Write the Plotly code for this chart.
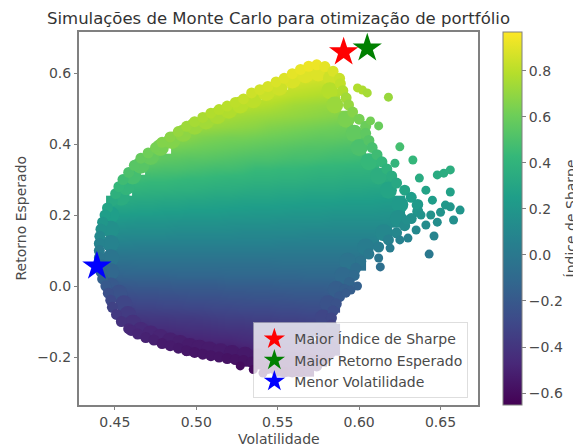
import plotly.graph_objects as go

TITLE = "Simulações de Monte Carlo para otimização de portfólio"
X_LABEL = "Volatilidade"
Y_LABEL = "Retorno Esperado"
CBAR_LABEL = "Índice de Sharpe"
NAMES = ["Maior Índice de Sharpe", "Maior Retorno Esperado", "Menor Volatilidade"]

# Simulated portfolios, row by row: return level, then volatility and Sharpe
ROW_RET = [.60, .57, .54, .51, .48, .45, .42, .39, .36, .33, .30, .27, .24, .21, .18, .15, .12, .09, .06, .03, 0.0,
           -.03, -.06, -.09, -.12, -.15, -.18, -.21, -.24]
ROW_VOL = [
    [.568, .576],
    [.556, .564, .572, .580],
    [.544, .552, .560, .568, .576, .584],
    [.524, .532, .540, .548, .556, .564, .572, .580, .588],
    [.512, .520, .528, .536, .544, .552, .560, .568, .576, .584, .592],
    [.500, .508, .516, .524, .532, .540, .548, .556, .564, .572, .580, .588, .596],
    [.488, .496, .504, .512, .520, .528, .536, .544, .552, .560, .568, .576, .584, .592, .600],
    [.484, .492, .500, .508, .516, .524, .532, .540, .548, .556, .564, .572, .580, .588, .596, .604],
    [.472, .480, .488, .496, .504, .512, .520, .528, .536, .544, .552, .560, .568, .576, .584, .592, .600, .608],
    [.468, .476, .484, .492, .500, .508, .516, .524, .532, .540, .548, .556, .564, .572, .580, .588, .596, .604, .612],
    [.464, .472, .480, .488, .496, .504, .512, .520, .528, .536, .544, .552, .560, .568, .576, .584, .592, .600, .608, .616],
    [.460, .468, .476, .484, .492, .500, .508, .516, .524, .532, .540, .548, .556, .564, .572, .580, .588, .596, .604, .612, .620],
    [.448, .456, .464, .472, .480, .488, .496, .504, .512, .520, .528, .536, .544, .552, .560, .568, .576, .584, .592, .600, .608, .616, .624, .628],
    [.444, .452, .460, .468, .476, .484, .492, .500, .508, .516, .524, .532, .540, .548, .556, .564, .572, .580, .588, .596, .604, .612, .620, .626],
    [.448, .456, .464, .472, .480, .488, .496, .504, .512, .520, .528, .536, .544, .552, .560, .568, .576, .584, .592, .600, .608, .616, .622],
    [.444, .452, .460, .468, .476, .484, .492, .500, .508, .516, .524, .532, .540, .548, .556, .564, .572, .580, .588, .596, .604, .612, .617],
    [.448, .456, .464, .472, .480, .488, .496, .504, .512, .520, .528, .536, .544, .552, .560, .568, .576, .584, .592, .600, .608, .612],
    [.444, .452, .460, .468, .476, .484, .492, .500, .508, .516, .524, .532, .540, .548, .556, .564, .572, .580, .588, .596, .604],
    [.448, .456, .464, .472, .480, .488, .496, .504, .512, .520, .528, .536, .544, .552, .560, .568, .576, .584, .592, .600],
    [.444, .452, .460, .468, .476, .484, .492, .500, .508, .516, .524, .532, .540, .548, .556, .564, .572, .580, .588, .596],
    [.448, .456, .464, .472, .480, .488, .496, .504, .512, .520, .528, .536, .544, .552, .560, .568, .576, .584, .592],
    [.452, .460, .468, .476, .484, .492, .500, .508, .516, .524, .532, .540, .548, .556, .564, .572, .580, .588],
    [.456, .464, .472, .480, .488, .496, .504, .512, .520, .528, .536, .544, .552, .560, .568, .576, .584],
    [.460, .468, .476, .484, .492, .500, .508, .516, .524, .532, .540, .548, .556, .564, .572, .580],
    [.464, .472, .480, .488, .496, .504, .512, .520, .528, .536, .544, .552, .560, .568, .576, .582],
    [.476, .484, .492, .500, .508, .516, .524, .532, .540, .548, .556, .564, .572, .582],
    [.496, .504, .512, .520, .528, .536, .544, .552, .560, .568, .576, .582],
    [.524, .532, .540, .548, .556, .564, .572, .578],
    [.552, .560, .568],
]
ROW_SHARPE = [
    [.90, .89],
    [.86, .85, .84, .83],
    [.83, .82, .80, .79, .78, .77],
    [.80, .79, .78, .77, .76, .74, .73, .72, .71],
    [.76, .75, .74, .73, .72, .71, .70, .69, .68, .67, .66],
    [.72, .71, .70, .69, .68, .67, .66, .65, .64, .63, .62, .61, .60],
    [.68, .67, .65, .64, .63, .63, .62, .61, .60, .59, .58, .57, .57, .56, .55],
    [.62, .61, .60, .59, .58, .57, .56, .56, .55, .54, .53, .52, .52, .51, .50, .50],
    [.57, .56, .55, .54, .54, .53, .52, .51, .50, .50, .49, .48, .48, .47, .46, .46, .45, .44],
    [.51, .50, .50, .49, .48, .47, .47, .46, .45, .44, .44, .43, .43, .42, .41, .41, .40, .40, .39],
    [.45, .44, .44, .43, .42, .42, .41, .40, .40, .39, .39, .38, .38, .37, .36, .36, .35, .35, .35, .34],
    [.39, .38, .38, .37, .37, .36, .35, .35, .34, .34, .33, .33, .32, .32, .31, .31, .31, .30, .30, .29, .29],
    [.33, .33, .32, .32, .31, .31, .30, .30, .29, .29, .28, .28, .28, .27, .27, .26, .26, .26, .25, .25, .25, .24, .24, .24],
    [.27, .27, .26, .26, .25, .25, .24, .24, .24, .23, .23, .23, .22, .22, .22, .21, .21, .21, .20, .20, .20, .20, .19, .19],
    [.20, .20, .19, .19, .19, .18, .18, .18, .18, .17, .17, .17, .17, .16, .16, .16, .16, .15, .15, .15, .15, .15, .14],
    [.14, .13, .13, .13, .13, .12, .12, .12, .12, .12, .11, .11, .11, .11, .11, .11, .10, .10, .10, .10, .10, .10, .10],
    [.07, .07, .06, .06, .06, .06, .06, .06, .06, .06, .06, .06, .06, .05, .05, .05, .05, .05, .05, .05, .05, .05],
    [.00, .00, .00, .00, .00, .00, .00, .00, .00, .00, .00, .00, .00, .00, .00, .00, .00, .00, .00, .00, .00],
    [-.07, -.07, -.06, -.06, -.06, -.06, -.06, -.06, -.06, -.06, -.06, -.06, -.06, -.05, -.05, -.05, -.05, -.05, -.05, -.05],
    [-.14, -.13, -.13, -.13, -.13, -.12, -.12, -.12, -.12, -.12, -.11, -.11, -.11, -.11, -.11, -.11, -.10, -.10, -.10, -.10],
    [-.20, -.20, -.19, -.19, -.19, -.18, -.18, -.18, -.18, -.17, -.17, -.17, -.17, -.16, -.16, -.16, -.16, -.15, -.15],
    [-.27, -.26, -.26, -.25, -.25, -.24, -.24, -.24, -.23, -.23, -.23, -.22, -.22, -.22, -.21, -.21, -.21, -.20],
    [-.33, -.32, -.32, -.31, -.31, -.30, -.30, -.29, -.29, -.28, -.28, -.28, -.27, -.27, -.26, -.26, -.26],
    [-.39, -.38, -.38, -.37, -.37, -.36, -.35, -.35, -.34, -.34, -.33, -.33, -.32, -.32, -.31, -.31],
    [-.45, -.44, -.44, -.43, -.42, -.42, -.41, -.40, -.40, -.39, -.39, -.38, -.38, -.37, -.36, -.36],
    [-.50, -.50, -.49, -.48, -.47, -.47, -.46, -.45, -.44, -.44, -.43, -.43, -.42, -.41],
    [-.54, -.54, -.53, -.52, -.51, -.50, -.50, -.49, -.48, -.48, -.47, -.46],
    [-.57, -.56, -.56, -.55, -.54, -.53, -.52, -.52],
    [-.60, -.59, -.58],
]
GRID_VOL = [.440, .448, .456, .464, .472, .480, .488, .496, .504, .512, .520, .528, .536, .544, .552, .560, .568,
            .576, .584, .592, .600, .608, .616, .624, .632]

# Portfolios along the edge of the cloud
EDGE_VOL = [.4485, .4455, .444, .4425, .4415, .4408, .4405, .4405, .4405, .4415, .4415, .4425, .4445, .446, .4475,
            .4485, .451, .454, .4585,
            .460, .464, .469, .474, .479, .484, .489, .494, .499, .504, .509, .514, .519, .524, .529, .534, .539,
            .544, .549, .554, .559, .564, .569, .574, .578, .582,
            .4505, .4525, .455, .4585, .462, .466, .4705, .475, .479, .484, .489, .494, .499, .504, .509, .514,
            .519, .524, .529, .534, .539, .544, .549, .554, .559, .564, .569, .574, .579, .584, .588,
            .5885, .590, .592, .5935, .596, .600, .604, .604, .606, .608, .611, .614, .617, .620, .623, .628, .632,
            .636, .636, .632, .628, .623, .618, .612, .606, .601, .598, .597, .594, .591, .588, .586, .584, .583,
            .583, .583, .583, .583]
EDGE_RET = [.24, .22, .20, .18, .16, .14, .12, .10, .08, .06, .04, .02, 0.0, -.02, -.04,
            -.06, -.08, -.10, -.12,
            -.125, -.135, -.145, -.152, -.162, -.168, -.175, -.182, -.187, -.192, -.196, -.200, -.204, -.207, -.210,
            -.214, -.220, -.232, -.238, -.242, -.242, -.24, -.235, -.225, -.21, -.19,
            .26, .28, .30, .32, .34, .36, .375, .39, .405, .42, .435, .45, .463, .475, .487, .497,
            .507, .517, .527, .544, .553, .562, .575, .585, .598, .61, .619, .623, .618, .605, .585,
            .57, .55, .53, .51, .49, .47, .45, .43, .41, .39, .37, .35, .33, .31, .29, .27, .25,
            .23, .21, .19, .17, .15, .13, .11, .09, .07, .05, .03, .01, -.01, -.03, -.05, -.07, -.09,
            -.11, -.13, -.15, -.17]
EDGE_SHARPE = [.33, .29, .25, .20, .16, .11, .07, .02, -.02, -.07, -.11, -.16, -.20, -.25, -.29,
               -.33, -.38, -.42, -.46,
               -.47, -.48, -.50, -.51, -.53, -.53, -.54, -.55, -.56, -.56, -.56, -.56, -.57, -.57, -.57, -.57, -.58,
               -.59, -.60, -.60, -.59, -.59, -.57, -.55, -.52, -.48,
               .38, .42, .46, .50, .54, .58, .61, .63, .66, .68, .71, .73, .75, .76, .78, .79,
               .80, .81, .83, .85, .86, .87, .88, .89, .91, .92, .93, .93, .91, .88, .84,
               .82, .78, .74, .71, .67, .63, .60, .56, .53, .49, .46, .42, .39, .35, .32, .29, .25,
               .22, .19, .16, .13, .10, .06, .03, .00, -.03, -.07, -.10, -.13, -.17, -.20, -.24, -.27, -.31,
               -.34, -.38, -.41, -.45]

# Portfolios just inside that edge
INNER_VOL = [.4475, .4475, .4475, .4475, .4475, .4475,
             .4525, .4555, .458, .461, .466, .472, .478, .484, .49, .496, .502, .508, .515, .522, .53, .538, .546,
             .554, .562, .57,
             .454, .457, .461, .466, .472, .478, .485, .492, .499, .506, .513, .520, .527, .535, .543, .551, .559,
             .567, .575, .583,
             .582, .585, .592, .597, .600, .606, .612, .618, .625, .624, .615, .604, .593, .590, .586, .581, .578,
             .577, .577]
INNER_RET = [.20, .16, .12, .08, .04, 0.0,
             -.02, -.05, -.08, -.105, -.125, -.135, -.145, -.155, -.162, -.17, -.175, -.18, -.185, -.19, -.195, -.20,
             -.21, -.22, -.22, -.215,
             .25, .28, .31, .34, .365, .39, .41, .43, .45, .465, .48, .495, .51, .525, .545, .56, .58,
             .595, .60, .585,
             .55, .51, .47, .43, .39, .35, .31, .27, .23, .19, .15, .11, .07, .03, -.01, -.05, -.09,
             -.13, -.17]
INNER_SHARPE = [.25, .16, .07, -.02, -.11, -.20,
                -.24, -.31, -.37, -.42, -.46, -.48, -.49, -.51, -.52, -.53, -.53, -.53, -.53, -.54, -.54, -.54,
                -.55, -.56, -.55, -.53,
                .35, .41, .48, .54, .58, .63, .66, .69, .72, .74, .76, .78, .80, .81, .84, .85, .88,
                .89, .89, .85,
                .79, .72, .64, .57, .50, .43, .36, .29, .22, .16, .10, .03, -.03, -.10, -.17, -.24, -.31,
                -.38, -.45]

# Outlying portfolios visible as single dots on the right and at the lower edge
DOT_VOL = [.599, .602, .605, .618, .612, .607, .625, .633, .622, .648, .652, .656, .656, .637, .641, .645, .653, .656,
           .662, .658, .650, .644, .648, .641, .635, .630, .625, .619, .646, .643, .613, .612, .599, .595, .592, .635,
           .638, .629, .527, .535, .541]
DOT_RET = [.558, .552, .544, .532, .451, .465, .392, .355, .346, .313, .318, .327, .265, .304, .270, .242, .228, .223,
           .214, .186, .208, .200, .180, .172, .158, .135, .130, .107, .141, .090, .054, .079, .000, -.011, -.020, .228,
           .200, .186, -.225, -.235, -.245]
DOT_SHARPE = [.78, .77, .75, .715, .59, .62, .48, .42, .41, .34, .35, .36, .27, .34, .28, .24, .21, .20,
              .19, .15, .18, .17, .14, .13, .11, .07, .06, .03, .08, .00, -.06, -.02, -.15, -.17, -.19, .22,
              .17, .15, -.60, -.61, -.62]

STAR_VOL = [.5905, .605, .439]
STAR_RET = [.659, .670, .056]
STAR_COLORS = ["red", "green", "blue"]

X_TICKS = [.45, .50, .55, .60, .65]
Y_TICKS = [-.2, 0, .2, .4, .6]
CB_TICKS = [-.6, -.4, -.2, 0, .2, .4, .6, .8]
CB_TEXT = ["−0.6", "−0.4", "−0.2", "0.0", "0.2", "0.4", "0.6", "0.8"]
S_MIN, S_MAX = -.652, .969
INK = "#4a4a4a"
LINE = "#808080"
FONT = "DejaVu Sans"

z = []
for vs, ss in zip(ROW_VOL, ROW_SHARPE):
    row = [None] * len(GRID_VOL)
    mid = (vs[0] + vs[-1]) / 2
    for v, s in zip(vs, ss):
        nearest = min(range(len(GRID_VOL)), key=lambda k: (abs(GRID_VOL[k] - v), abs(GRID_VOL[k] - mid)))
        row[nearest] = s
    z.append(row)

fig = go.Figure()
fig.add_trace(go.Heatmap(
    x=GRID_VOL, y=ROW_RET, z=z, zsmooth="best", colorscale="Viridis", zmin=S_MIN, zmax=S_MAX,
    hoverinfo="skip", showlegend=False,
    colorbar=dict(x=1.0625, xanchor="left", xref="paper", y=0, yanchor="bottom", yref="paper",
                  len=1, lenmode="fraction", thickness=19, thicknessmode="pixels",
                  outlinecolor=LINE, outlinewidth=1, ypad=0, xpad=0,
                  tickmode="array", tickvals=CB_TICKS, ticktext=CB_TEXT,
                  ticks="outside", ticklen=4, tickcolor=LINE,
                  tickfont=dict(size=14, color=INK, family=FONT))))
for xs, ys, cs, size in ((INNER_VOL, INNER_RET, INNER_SHARPE, 17), (EDGE_VOL, EDGE_RET, EDGE_SHARPE, 11),
                         (DOT_VOL, DOT_RET, DOT_SHARPE, 9)):
    fig.add_trace(go.Scatter(
        x=xs, y=ys, mode="markers", showlegend=False, hoverinfo="skip",
        marker=dict(size=size, color=cs, colorscale="Viridis", cmin=S_MIN, cmax=S_MAX, line_width=0)))
for v, r, c, n in zip(STAR_VOL, STAR_RET, STAR_COLORS, NAMES):
    fig.add_trace(go.Scatter(x=[v], y=[r], mode="markers", name=n,
                             marker=dict(symbol="star", size=22, color=c, line_width=0)))

axis_common = dict(showgrid=False, zeroline=False, showline=True, linecolor=LINE, linewidth=2, mirror=True,
                   ticks="outside", ticklen=3, tickcolor=LINE, automargin=False,
                   tickfont=dict(size=14, color=INK, family=FONT))
note_font = dict(size=14, color=INK, family=FONT)
fig.update_layout(
    width=573, height=440, autosize=False, plot_bgcolor="white", paper_bgcolor="white",
    margin=dict(l=71, r=103, t=24, b=43, pad=0),
    title=dict(text=TITLE, x=(71 + 199.5) / 573, xanchor="center", y=1 - 10 / 440, yanchor="middle",
               font=dict(size=16.5, color="#333333", family=FONT)),
    xaxis=dict(range=[.428, .673], tickvals=X_TICKS, tickformat=".2f", **axis_common),
    yaxis=dict(range=[-.335, .7155], tickvals=Y_TICKS, tickformat=".1f", **axis_common),
    legend=dict(x=.437, xanchor="left", y=.018, yanchor="bottom", bgcolor="rgba(255,255,255,0.78)",
                bordercolor="rgba(200,200,200,0.6)", borderwidth=1,
                font=dict(size=14, color=INK, family=FONT), tracegroupgap=0),
    annotations=[
        dict(text=CBAR_LABEL, xref="paper", yref="paper", x=(562 - 71) / 399, y=.5, xanchor="center",
             yanchor="middle", textangle=-90, showarrow=False, font=note_font),
        dict(text=X_LABEL, xref="paper", yref="paper", x=.5, y=-(431 - 397) / 373, xanchor="center",
             yanchor="middle", showarrow=False, font=note_font),
        dict(text=Y_LABEL, xref="paper", yref="paper", x=(12 - 71) / 399, y=.5, xanchor="center",
             yanchor="middle", textangle=-90, showarrow=False, font=note_font),
    ],
)
fig.write_html("out.html")
